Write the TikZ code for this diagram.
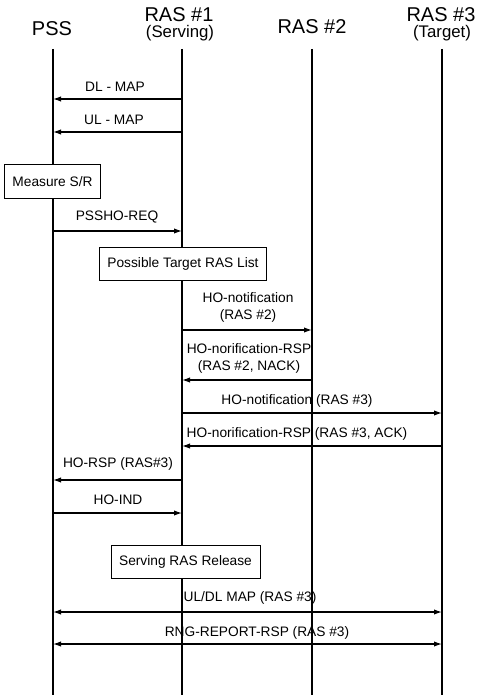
\documentclass[tikz,border=0pt]{standalone}
\usepackage{fontspec}
\setmainfont{Liberation Sans}
\usetikzlibrary{arrows.meta}

\begin{document}
\begin{tikzpicture}[
    x=0.75pt, y=-0.75pt,
    lifeline/.style={line width=1.3pt},
    msg/.style={line width=0.9pt, -{Latex[length=6pt,width=4pt]}},
    dmsg/.style={line width=0.9pt, {Latex[length=6pt,width=4pt]}-{Latex[length=6pt,width=4pt]}},
    actor/.style={font=\fontsize{15}{17}\selectfont, inner sep=0pt},
    subactor/.style={font=\fontsize{12.6}{14}\selectfont, inner sep=0pt},
    lbl/.style={font=\fontsize{10.3}{12.75}\selectfont, align=center, inner sep=0pt},
    action/.style={draw, line width=0.6pt, fill=white, inner xsep=6pt,
        minimum height=25pt, font=\fontsize{10.3}{12.75}\selectfont}
]
\useasboundingbox (0,0) rectangle (478,695);

% headers
\node[actor] (psshead) at (52,29) {PSS};
\node[actor] (ras1head) at (179,15) {RAS \#1};
\node[subactor] (ras1sub) at (180,33) {(Serving)};
\node[actor] (ras2head) at (312,27) {RAS \#2};
\node[actor] (ras3head) at (441,15) {RAS \#3};
\node[subactor] (ras3sub) at (442,33) {(Target)};

% lifelines
\coordinate (pss) at (53,49);
\coordinate (ras1) at (182,49);
\coordinate (ras2) at (312,49);
\coordinate (ras3) at (442,49);
\coordinate (pssend) at (53,695);
\coordinate (ras1end) at (182,695);
\coordinate (ras2end) at (312,695);
\coordinate (ras3end) at (442,695);
\draw[lifeline] (pss) -- (pssend);
\draw[lifeline] (ras1) -- (ras1end);
\draw[lifeline] (ras2) -- (ras2end);
\draw[lifeline] (ras3) -- (ras3end);

% messages
\node[lbl] (dlmap) at (115,87) {DL - MAP};
\draw[msg] (ras1 |- 0,99) -- (pss |- 0,99);

\node[lbl] (ulmap) at (114,120) {UL - MAP};
\draw[msg] (ras1 |- 0,132) -- (pss |- 0,132);

\node[action] (measure) at (52.5,181.5) {Measure S/R};

\node[lbl] (horeq) at (117,217) {PSSHO-REQ};
\draw[msg] (pss |- 0,231) -- (ras1 |- 0,231);

\node[action] (targetlist) at (183,264) {Possible Target RAS List};

\node[lbl] (notif2) at (248,307.5) {HO-notification\\(RAS \#2)};
\draw[msg] (ras1 |- 0,330) -- (ras2 |- 0,330);

\node[lbl] (rsp2) at (249,358) {HO-norification-RSP\\(RAS \#2, NACK)};
\draw[msg] (ras2 |- 0,380) -- (ras1 |- 0,380);

\node[lbl] (notif3) at (297,401) {HO-notification (RAS \#3)};
\draw[msg] (ras1 |- 0,413) -- (ras3 |- 0,413);

\node[lbl] (rsp3) at (297,434) {HO-norification-RSP (RAS \#3, ACK)};
\draw[msg] (ras3 |- 0,446) -- (ras1 |- 0,446);

\node[lbl] (horsp) at (118,464) {HO-RSP (RAS\#3)};
\draw[msg] (ras1 |- 0,480) -- (pss |- 0,480);

\node[lbl] (hoind) at (118,500) {HO-IND};
\draw[msg] (pss |- 0,513) -- (ras1 |- 0,513);

\node[action] (release) at (185.5,562) {Serving RAS Release};

\node[lbl] (uldlmap) at (250,598) {UL/DL MAP (RAS \#3)};
\draw[dmsg] (pss |- 0,612) -- (ras3 |- 0,612);

\node[lbl] (rngrsp) at (257,633) {RNG-REPORT-RSP (RAS \#3)};
\draw[dmsg] (pss |- 0,644) -- (ras3 |- 0,644);

\end{tikzpicture}
\end{document}
